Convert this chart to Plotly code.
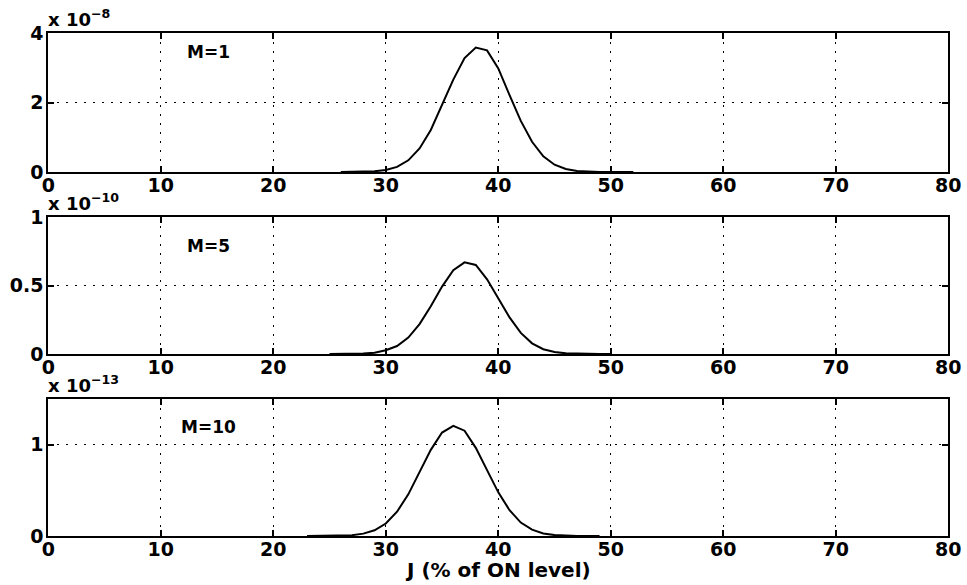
import plotly.graph_objects as go
from plotly.subplots import make_subplots

# J values (% of ON level) and the probability curves (scaled by 10^exponent)
j_m1 = list(range(26, 53))
p_m1 = [0.0, 0.002, 0.006, 0.02, 0.057, 0.147, 0.336, 0.678, 1.21, 1.91, 2.66, 3.28,
        3.58, 3.50, 2.98, 2.21, 1.47, 0.87, 0.45, 0.21, 0.085, 0.03, 0.01, 0.003, 0.001,
        0.0, 0.0]

j_m5 = list(range(25, 51))
p_m5 = [0.0, 0.0003, 0.0009, 0.003, 0.009, 0.027, 0.058, 0.12, 0.218, 0.349, 0.492,
        0.611, 0.669, 0.650, 0.545, 0.406, 0.267, 0.154, 0.078, 0.035, 0.014, 0.005,
        0.0015, 0.0004, 0.0, 0.0]

j_m10 = list(range(23, 50))
p_m10 = [0.0, 0.0003, 0.0009, 0.003, 0.009, 0.026, 0.063, 0.137, 0.266, 0.456, 0.696,
         0.943, 1.133, 1.205, 1.153, 0.965, 0.721, 0.478, 0.282, 0.147, 0.069, 0.028,
         0.010, 0.003, 0.001, 0.0, 0.0]

panel_labels = ["M=1", "M=5", "M=10"]
exponents = [-8, -10, -13]
y_ranges = [[0, 4], [0, 1], [0, 1.5]]
y_ticks = [[0, 2, 4], [0, 0.5, 1], [0, 1]]
y_ticktext = [["0", "2", "4"], ["0", "0.5", "1"], ["0", "1"]]
x_ticks = [0, 10, 20, 30, 40, 50, 60, 70, 80]
x_title = "J (% of ON level)"

W, H = 967, 585
x_left, x_right = 48.3, 948.3
panel_px = [(33, 172), (217, 354), (399, 536)]

fig = make_subplots(rows=3, cols=1)

series = [(j_m1, p_m1), (j_m5, p_m5), (j_m10, p_m10)]
for i, (xs, ys) in enumerate(series, start=1):
    fig.add_trace(go.Scatter(x=xs, y=ys, mode="lines",
                             line=dict(color="black", width=2),
                             showlegend=False, hoverinfo="skip"), row=i, col=1)

tick_font = dict(family="DejaVu Sans", size=19, color="black", weight="bold")
grid_dash = "2px,7px"

for i in range(3):
    top, bot = panel_px[i]
    dom_y = [1 - bot / H, 1 - top / H]
    xa = "xaxis" if i == 0 else f"xaxis{i + 1}"
    ya = "yaxis" if i == 0 else f"yaxis{i + 1}"
    common = dict(
        tickmode="array", ticks="inside", ticklen=6, tickwidth=2, tickcolor="black",
        showline=True, linecolor="black", linewidth=2, mirror="allticks",
        showgrid=True, gridcolor="black", gridwidth=1, griddash=grid_dash,
        zeroline=False, tickfont=tick_font, automargin=False,
    )
    fig.layout[xa].update(
        domain=[x_left / W, x_right / W], range=[0, 80],
        tickvals=x_ticks, ticktext=[str(v) for v in x_ticks],
        ticklabelstandoff=-5, **common,
    )
    fig.layout[ya].update(
        domain=dom_y, range=y_ranges[i],
        tickvals=y_ticks[i], ticktext=y_ticktext[i],
        ticklabelstandoff=-1, **common,
    )
    # multiplier label above the top-left corner of each panel
    fig.add_annotation(
        xref="paper", yref="paper", x=(x_left - 2) / W, y=1 - (top - 1) / H,
        xanchor="left", yanchor="bottom", showarrow=False,
        text=f"x 10<sup>−{abs(exponents[i])}</sup>",
        font=dict(family="DejaVu Sans", size=18, color="black", weight="bold"),
    )
    # panel label inside the plot area
    label_y = [3.45, 0.79, 1.19][i]
    fig.add_annotation(
        xref=f"x{i + 1}" if i else "x", yref=f"y{i + 1}" if i else "y",
        x=14.2, y=label_y, showarrow=False, text=panel_labels[i],
        font=dict(family="DejaVu Sans", size=17, color="black", weight="bold"),
    )

fig.add_annotation(
    xref="paper", yref="paper", x=(x_left + x_right) / 2 / W, y=1 - 570 / H,
    xanchor="center", yanchor="middle", showarrow=False, text=x_title,
    font=dict(family="DejaVu Sans", size=20, color="black", weight="bold"),
)

fig.update_layout(
    width=W, height=H, margin=dict(l=0, r=0, t=0, b=0, autoexpand=False),
    paper_bgcolor="white", plot_bgcolor="white",
)

fig.write_html("out.html")
